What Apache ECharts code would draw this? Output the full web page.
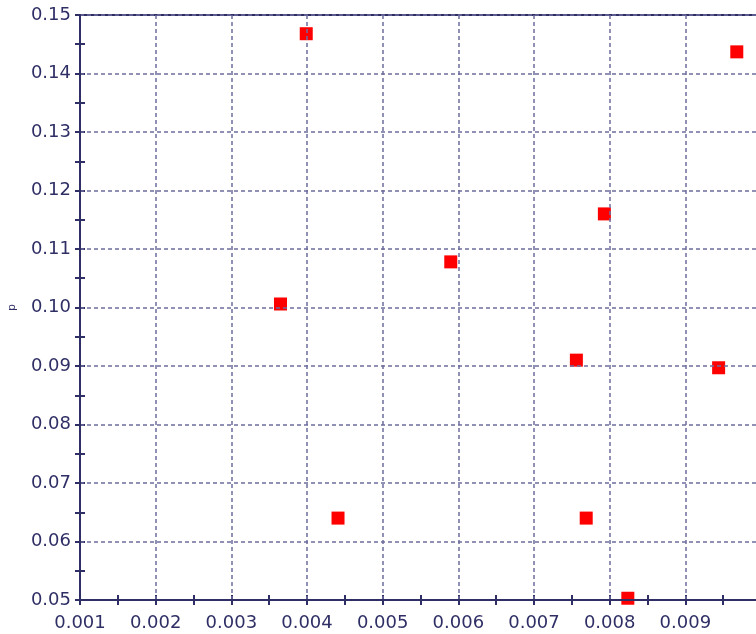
<!DOCTYPE html>
<html><head><meta charset="utf-8">
<script src="https://cdn.jsdelivr.net/npm/echarts@6/dist/echarts.min.js"></script>
<style>html,body{margin:0;padding:0;background:#fff}#c{width:756px;height:634px}</style>
</head><body><div id="c"></div>
<script>
var xValues = [0.00399, 0.00968, 0.00793, 0.00590, 0.00365, 0.00756, 0.00944, 0.00441, 0.00769, 0.00824];
var yValues = [0.1468, 0.1437, 0.1160, 0.1078, 0.1006, 0.0910, 0.0897, 0.0640, 0.0640, 0.0503];
var yName = 'p';

var pts = xValues.map(function(x, i){ return [x, yValues[i]]; });
var axisColor = '#2f2f66';
var gridColor = '#6d6d9f';
var font = 'DejaVu Sans';
var fmtX = function(v){ return v.toFixed(3); };
var fmtY = function(v){ return v.toFixed(2); };

var chart = echarts.init(document.getElementById('c'), null, {renderer:'canvas'});
chart.setOption({
  animation:false,
  grid:{left:80, top:15, right:-5, bottom:34, outerBoundsMode:'none', containLabel:false, show:false},
  xAxis:[{
    type:'value', min:0.001, max:0.010, interval:0.001, position:'bottom',
    axisLine:{show:true, onZero:false, lineStyle:{color:axisColor, width:2}},
    axisTick:{show:true, length:5, lineStyle:{color:axisColor, width:2}},
    minorTick:{show:true, splitNumber:2, length:5, lineStyle:{color:axisColor, width:2}},
    axisLabel:{color:axisColor, fontFamily:font, fontSize:18, margin:14, formatter:fmtX, showMaxLabel:false},
    splitLine:{show:true, showMaxLine:false, lineStyle:{color:gridColor, type:[4,3], width:1.5}},
    z:3
  },{
    type:'value', min:0.001, max:0.010, interval:0.001, position:'bottom', offset:-5,
    axisLine:{show:false, onZero:false},
    axisTick:{show:true, length:5, lineStyle:{color:axisColor, width:2}},
    minorTick:{show:true, splitNumber:2, length:5, lineStyle:{color:axisColor, width:2}},
    axisLabel:{show:false}, splitLine:{show:false}
  },{
    type:'value', min:0.001, max:0.010, position:'top',
    axisLine:{show:true, onZero:false, lineStyle:{color:axisColor, width:2}},
    axisTick:{show:false}, axisLabel:{show:false}, splitLine:{show:false}
  }],
  yAxis:[{
    type:'value', min:0.05, max:0.15, interval:0.01, position:'left',
    name:yName, nameLocation:'middle', nameGap:62, nameRotate:90,
    nameTextStyle:{color:axisColor, fontFamily:font, fontSize:11},
    axisLine:{show:true, onZero:false, lineStyle:{color:axisColor, width:2}},
    axisTick:{show:true, length:5, lineStyle:{color:axisColor, width:2}},
    minorTick:{show:true, splitNumber:2, length:5, lineStyle:{color:axisColor, width:2}},
    axisLabel:{color:axisColor, fontFamily:font, fontSize:18, margin:9, formatter:fmtY},
    splitLine:{show:true, lineStyle:{color:gridColor, type:[4,3], width:1.5}},
    z:3
  },{
    type:'value', min:0.05, max:0.15, interval:0.01, position:'left', offset:-5,
    axisLine:{show:false, onZero:false},
    axisTick:{show:true, length:5, lineStyle:{color:axisColor, width:2}},
    minorTick:{show:true, splitNumber:2, length:5, lineStyle:{color:axisColor, width:2}},
    axisLabel:{show:false}, splitLine:{show:false}
  }],
  series:[{
    type:'scatter', xAxisIndex:0, yAxisIndex:0, data:pts, clip:true,
    symbol:'rect', symbolSize:13, itemStyle:{color:'#ff0000', opacity:1}, z:1
  }]
});
</script></body></html>
